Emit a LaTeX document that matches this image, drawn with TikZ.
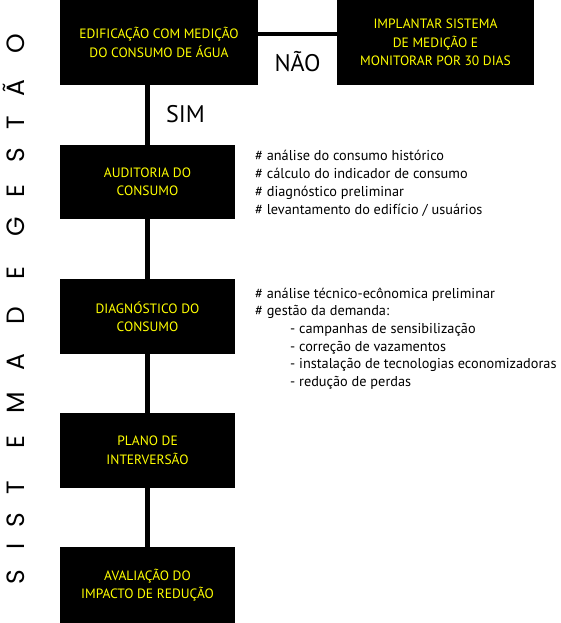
\documentclass[tikz,border=0pt]{standalone}
\usepackage{fontspec}
\setmainfont{PT Sans}
\newfontfamily\sidefont{Poppins}
\usetikzlibrary{calc}
\definecolor{boxyellow}{RGB}{255,255,0}
\begin{document}
\begin{tikzpicture}[x=1pt,y=-1pt,
  box/.style={fill=black, text=boxyellow, align=center, inner sep=0pt,
    minimum width=175pt, minimum height=75pt,
    font=\fontsize{13.5}{18.5}\selectfont},
  conn/.style={line width=4.5pt},
  note/.style={anchor=north west, align=left, inner sep=0pt,
    font=\fontsize{14.3}{17.7}\selectfont},
  lbl/.style={font=\fontsize{24}{24}\selectfont, inner sep=0pt, anchor=base},
  side/.style={font=\sidefont\fontsize{25}{25}\selectfont, rotate=90,
    inner sep=0pt, text height=17.5pt, text depth=0pt}]
\useasboundingbox (0,0) rectangle (560,623);
% boxes
\node[box, minimum width=198pt, minimum height=85pt] (b1) at (159,42.5)
  {EDIFICAÇÃO COM MEDIÇÃO\\DO CONSUMO DE ÁGUA};
\node[box, minimum width=197pt, minimum height=85pt] (b2) at (435.5,42.5)
  {IMPLANTAR SISTEMA\\DE MEDIÇÃO E\\MONITORAR POR 30 DIAS};
\node[box, minimum height=74pt] (b3) at (147.5,182) {AUDITORIA DO\\CONSUMO};
\node[box] (b4) at (147.5,316.5) {DIAGNÓSTICO DO\\CONSUMO};
\node[box] (b5) at (147.5,450.5) {PLANO DE\\INTERVERSÃO};
\node[box, minimum height=76pt] (b6) at (147.5,585) {AVALIAÇÃO DO\\IMPACTO DE REDUÇÃO};
% connectors
\draw[conn] (b3.north) -- (b3.north |- b1.south);
\draw[conn] (b4.north) -- (b3.south);
\draw[conn] (b5.north) -- (b4.south);
\draw[conn] (b6.north) -- (b5.south);
\draw[conn] ($(b1.north east)!0.4!(b1.south east)$) -- ($(b2.north west)!0.4!(b2.south west)$);
% labels
\node[lbl] (nao) at (297.5,72) {NÃO};
\node[lbl] (sim) at (185.5,122) {SIM};
% notes
\node[note] (n1) at (255,150.5) {\# análise do consumo histórico\\
  \# cálculo do indicador de consumo\\
  \# diagnóstico preliminar\\
  \# levantamento do edifício / usuários};
\node[note] (n2) at (255,287.5) {\# análise técnico-ecônomica preliminar\\
  \# gestão da demanda:\\
  \hspace*{35pt}- campanhas de sensibilização\\
  \hspace*{35pt}- correção de vazamentos\\
  \hspace*{35pt}- instalação de tecnologias economizadoras\\
  \hspace*{35pt}- redução de perdas};
% side title
\foreach \c/\yy [count=\i] in {S/577.5, I/546.5, S/520, T/487.5, E/442, M/402.5, A/362.5,
    D/315.5, E/273, G/226.5, E/191, S/155.5, T/122.5, Ã/88.5, O/43.5}
  \node[side] (side\i) at (16,\yy) {\c};
\end{tikzpicture}
\end{document}
